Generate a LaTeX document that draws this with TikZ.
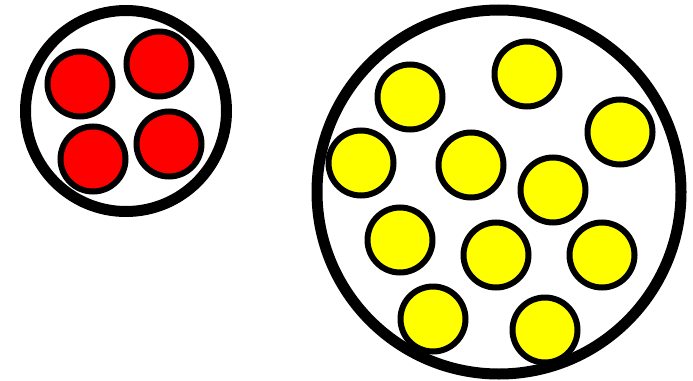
\documentclass[tikz,border=0pt]{standalone}
\definecolor{ballyellow}{RGB}{255,255,0}
\definecolor{ballred}{RGB}{255,0,0}
\begin{document}
\begin{tikzpicture}[x=1pt,y=-1pt,
  bigring/.style={draw=black,line width=11pt,fill=white},
  redball/.style={draw=black,line width=6pt,fill=ballred},
  yellowball/.style={draw=black,line width=6pt,fill=ballyellow}]
\useasboundingbox (0,0) rectangle (693,380);
\fill[white] (0,0) rectangle (693,380);
% left container
\draw[bigring] (126,111) circle (100.5);
\foreach \p in {(80,84),(159,64),(93,159),(169,144)}
  \draw[redball] \p circle (32.5);
% right container
\draw[bigring] (499,192) circle (182);
\foreach \p in {(527,74),(410,97),(620,132),(361,163),(471,165),(553,190),(400,240),(496,255),(602,255),(433,319),(545,330)}
  \draw[yellowball] \p circle (32.5);
\end{tikzpicture}
\end{document}
